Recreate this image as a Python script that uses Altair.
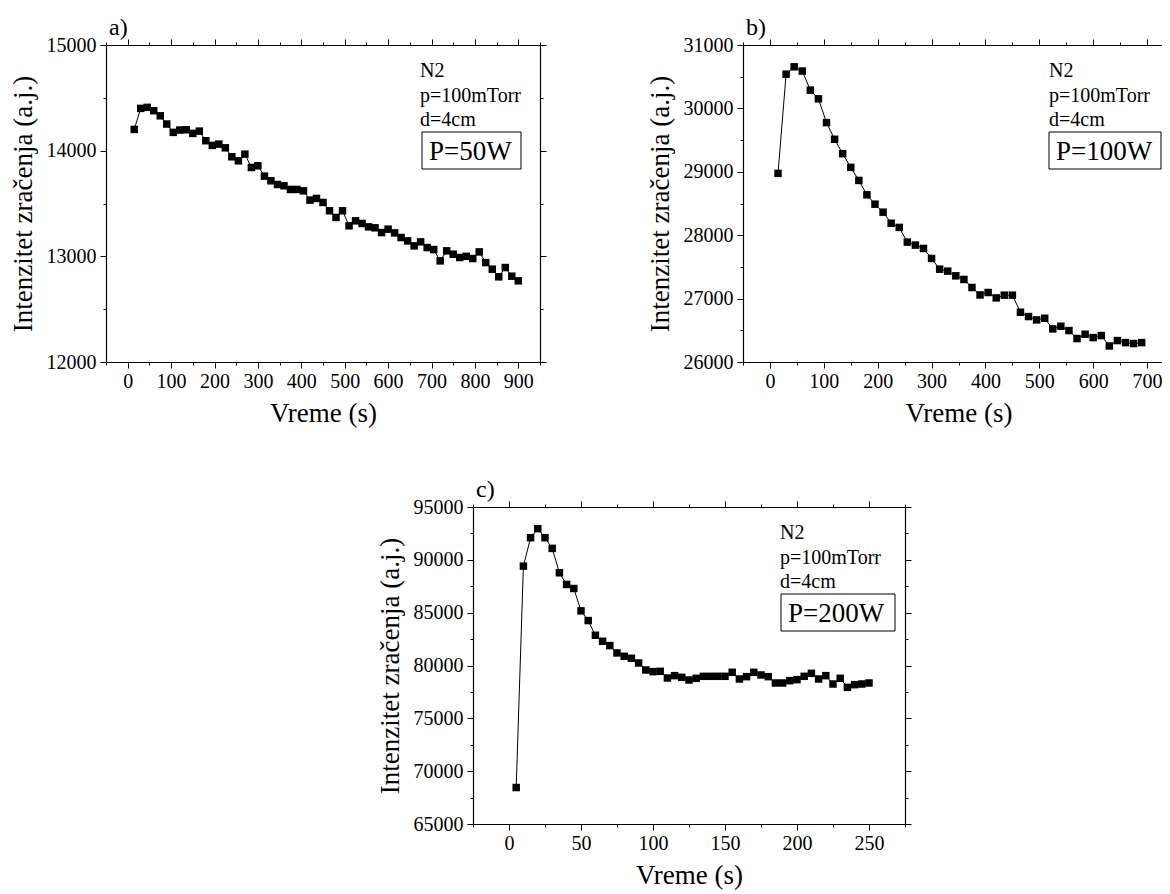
import altair as alt
import pandas as pd

# ---------------- data ----------------
a_t = [15, 30, 45, 60, 75, 90, 105, 120, 135, 150, 165, 180, 195, 210, 225,
       240, 255, 270, 285, 300, 315, 330, 345, 360, 375, 390, 405, 420, 435, 450,
       465, 480, 495, 510, 525, 540, 555, 570, 585, 600, 615, 630, 645, 660, 675,
       690, 705, 720, 735, 750, 765, 780, 795, 810, 825, 840, 855, 870, 885, 900]
a_v = [14201, 14400, 14410, 14378, 14330, 14252, 14173, 14195, 14198, 14163,
       14185, 14094, 14050, 14062, 14027, 13942, 13904, 13967, 13841, 13857,
       13759, 13715, 13680, 13668, 13633, 13633, 13620, 13532, 13548, 13510,
       13431, 13368, 13431, 13289, 13336, 13311, 13279, 13270, 13225, 13257,
       13222, 13178, 13146, 13099, 13137, 13083, 13064, 12957, 13052, 13020,
       12989, 13000, 12979, 13042, 12941, 12878, 12806, 12894, 12812, 12768]

b_t = [15, 30, 45, 60, 75, 90, 105, 120, 135, 150, 165, 180, 195, 210, 225,
       240, 255, 270, 285, 300, 315, 330, 345, 360, 375, 390, 405, 420, 435, 450,
       465, 480, 495, 510, 525, 540, 555, 570, 585, 600, 615, 630, 645, 660, 675, 690]
b_v = [28975, 30540, 30656, 30589, 30288, 30151, 29776, 29513, 29286, 29070,
       28864, 28637, 28489, 28363, 28189, 28123, 27891, 27844, 27791, 27633,
       27464, 27433, 27359, 27302, 27175, 27058, 27096, 27011, 27054, 27054,
       26785, 26717, 26664, 26690, 26522, 26564, 26496, 26370, 26438, 26385,
       26417, 26253, 26338, 26306, 26291, 26306]

c_t = [5, 10, 15, 20, 25, 30, 35, 40, 45, 50, 55, 60, 65, 70, 75, 80, 85, 90, 95, 100,
       105, 110, 115, 120, 125, 130, 135, 140, 145, 150, 155, 160, 165, 170, 175,
       180, 185, 190, 195, 200, 205, 210, 215, 220, 225, 230, 235, 240, 245, 250]
c_v = [68451, 89406, 92092, 92946, 92092, 91081, 88774, 87668, 87288, 85171,
       84254, 82863, 82294, 81884, 81188, 80872, 80683, 80240, 79576, 79418,
       79450, 78818, 79039, 78881, 78628, 78786, 78976, 78976, 78976, 78976,
       79355, 78723, 78944, 79355, 79102, 78944, 78344, 78344, 78565, 78660,
       78976, 79260, 78723, 79039, 78249, 78786, 77933, 78186, 78249, 78344]

# tick values (majors labelled, minors unlabelled)
a_xticks = [-50, 0, 50, 100, 150, 200, 250, 300, 350, 400, 450, 500, 550, 600,
            650, 700, 750, 800, 850, 900, 950]
a_yticks = [12000, 12500, 13000, 13500, 14000, 14500, 15000]
b_xticks = [-50, 0, 50, 100, 150, 200, 250, 300, 350, 400, 450, 500, 550, 600,
            650, 700, 750]
b_yticks = [26000, 26500, 27000, 27500, 28000, 28500, 29000, 29500, 30000,
            30500, 31000]
c_xticks = [-25, 0, 25, 50, 75, 100, 125, 150, 175, 200, 225, 250, 275]
c_yticks = [65000, 67500, 70000, 72500, 75000, 77500, 80000, 82500, 85000,
            87500, 90000, 92500, 95000]

info_lines = ["N2", "p=100mTorr", "d=4cm"]
x_title = "Vreme (s)"
y_title = "Intenzitet zračenja (a.j.)"

# ---------------- layout ----------------
W, H = 1154, 886
FONT = "Liberation Serif, Times New Roman, serif"


def panel(t, v, xdom, ydom, frame, xticks, yticks, xmajor, ymajor,
          text_dx, box_dx, power, letter):
    L, R, T, B = frame
    df = pd.DataFrame({"t": t, "v": v})
    xs = alt.Scale(domain=xdom, range=[L, R], nice=False, zero=False)
    ys = alt.Scale(domain=ydom, range=[B, T], nice=False, zero=False)
    common = dict(domainColor="black", domainWidth=1.2, tickColor="black",
                  tickWidth=1, grid=False, labelFont=FONT, labelFontSize=20,
                  labelColor="black", labelFlush=False, labelOverlap=False,
                  titleFont=FONT, titleFontSize=27, titleFontWeight="normal",
                  titleColor="black", format="d")
    xts = {"condition": {"test": f"datum.value % {xmajor} === 0", "value": 6}, "value": 3}
    yts = {"condition": {"test": f"datum.value % {ymajor} === 0", "value": 6}, "value": 3}
    ax_b = alt.Axis(orient="bottom", offset=B - H, values=xticks, tickSize=xts,
                    labelPadding=3,
                    labelExpr=f"datum.value % {xmajor} === 0 ? datum.label : ''",
                    title=x_title, titleY=59, titleBaseline="alphabetic", **common)
    ax_t = alt.Axis(orient="top", offset=-T, values=xticks, tickSize=xts,
                    labels=False, title=None, **common)
    ax_l = alt.Axis(orient="left", offset=-L, values=yticks, tickSize=yts,
                    labelPadding=4,
                    labelExpr=f"datum.value % {ymajor} === 0 ? datum.label : ''",
                    title=y_title, titleX=-83, titleBaseline="middle", **common)
    ax_r = alt.Axis(orient="right", offset=R - W, values=yticks, tickSize=yts,
                    labels=False, title=None, **common)

    base = alt.Chart(df)
    line = base.mark_line(color="black", strokeWidth=1).encode(
        x=alt.X("t:Q", scale=xs, axis=ax_b),
        y=alt.Y("v:Q", scale=ys, axis=ax_l),
    )
    pts = base.mark_square(size=56, color="black", opacity=1).encode(
        x=alt.X("t:Q", scale=xs, axis=ax_t),
        y=alt.Y("v:Q", scale=ys, axis=ax_r),
    )
    dummy = alt.Chart(pd.DataFrame({"k": [0]}))
    info = dummy.mark_text(text=info_lines, font=FONT, fontSize=20, lineHeight=24.5,
                           align="left", baseline="alphabetic", color="black").encode(
        x=alt.value(R - text_dx), y=alt.value(T + 32))
    bx1, bx2 = R - box_dx[0], R - box_dx[1]
    by1, by2 = T + 87, T + 124
    box = dummy.mark_rect(fillOpacity=0, stroke="black", strokeWidth=1).encode(
        x=alt.value(bx1), x2=alt.value(bx2), y=alt.value(by1), y2=alt.value(by2))
    ptxt = dummy.mark_text(text=power, font=FONT, fontSize=27, align="left",
                           baseline="middle", color="black").encode(
        x=alt.value(bx1 + 7), y=alt.value((by1 + by2) / 2 + 1))
    lab = dummy.mark_text(text=letter, font=FONT, fontSize=24, align="left",
                          baseline="alphabetic", color="black").encode(
        x=alt.value(L + 3), y=alt.value(T - 10))
    return [line, pts, info, box, ptxt, lab]


layers = []
layers += panel(a_t, a_v, [-50, 950], [12000, 15000], (98, 532, 37, 354),
                a_xticks, a_yticks, 100, 1000, 120, (118, 19), "P=50W", "a)")
layers += panel(b_t, b_v, [-50, 750], [26000, 31000], (735, 1166, 37, 354),
                b_xticks, b_yticks, 100, 1000, 125, (125, 13), "P=100W", "b)")
layers += panel(c_t, c_v, [-25, 275], [65000, 95000], (465, 897, 499, 816),
                c_xticks, c_yticks, 50, 5000, 125, (124, 10), "P=200W", "c)")

chart = alt.layer(*layers).resolve_scale(
    x="independent", y="independent"
).properties(
    width=W, height=H, padding=0,
    autosize=alt.AutoSizeParams(type="none"),
).configure_view(strokeWidth=0)

chart.save("out.html", embed_options={"renderer": "svg", "actions": False})
